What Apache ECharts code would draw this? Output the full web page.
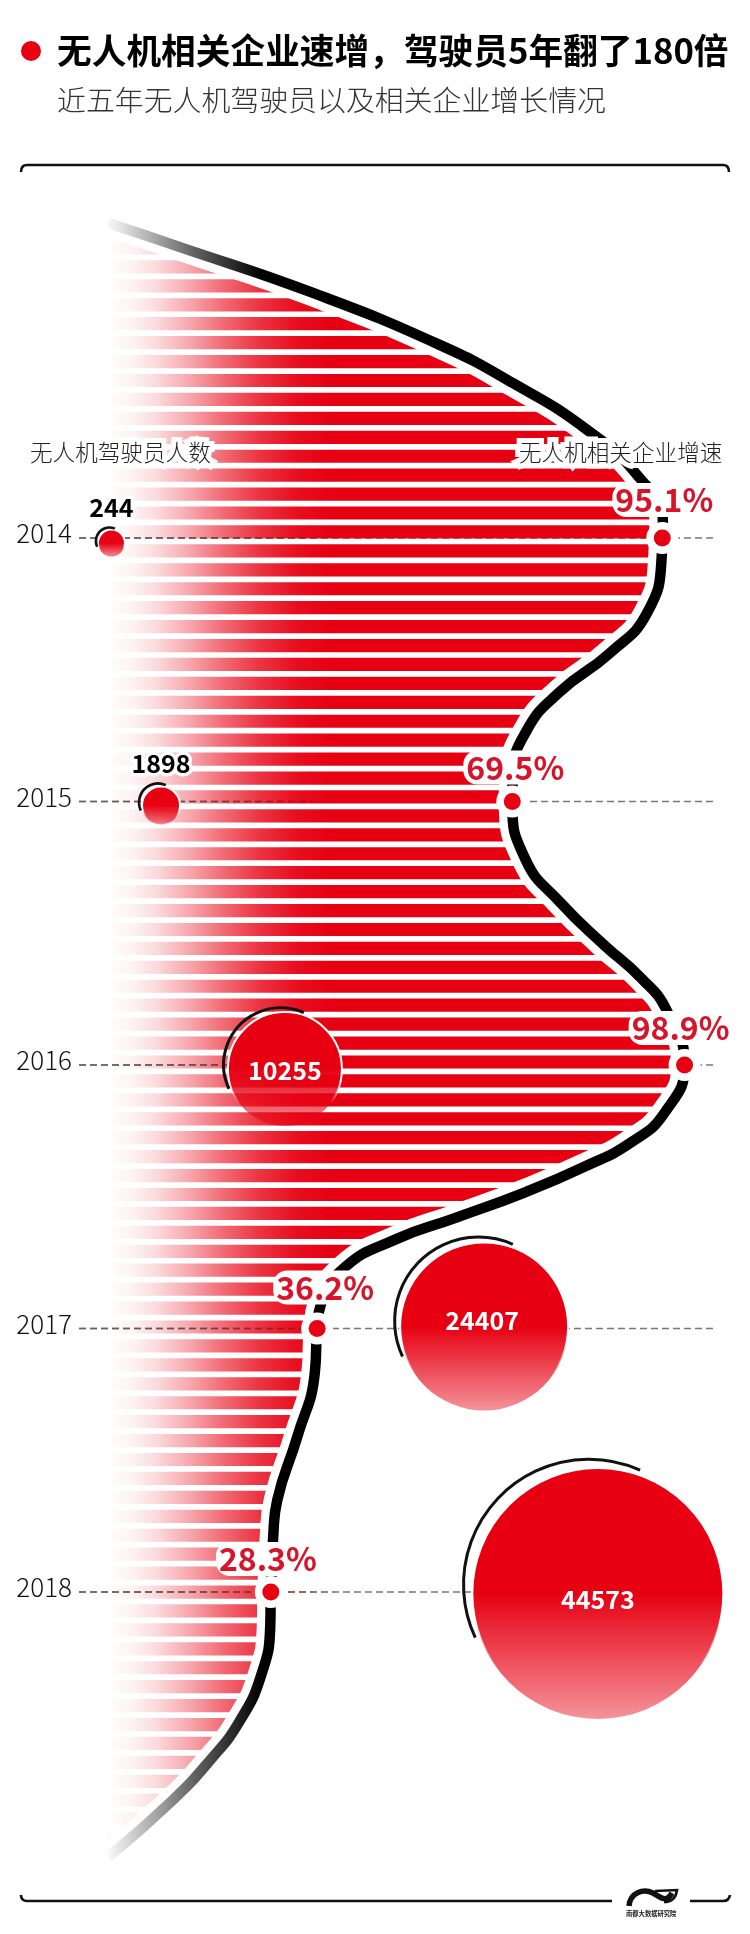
<!DOCTYPE html>
<html>
<head>
<meta charset="utf-8">
<title>无人机相关企业速增</title>
<script src="https://cdn.jsdelivr.net/npm/echarts@6/dist/echarts.min.js"></script>
<style>
  html, body { margin: 0; padding: 0; background: #fff; overflow: hidden; }
  #chart { width: 750px; height: 1934px; }
</style>
</head>
<body>
<div id="chart"></div>
<script>
// Chart data
const years = [2014, 2015, 2016, 2017, 2018];
const growthRates = [95.1, 69.5, 98.9, 36.2, 28.3];
const pilotCounts = [244, 1898, 10255, 24407, 44573];

// Curve through the growth rates, including the lead-in and lead-out
const curveYears = [
  2012.805, 2012.896, 2013.07, 2013.268, 2013.412, 2013.59, 2013.761, 2013.939, 2014,
  2014.072, 2014.285, 2014.436, 2014.584, 2014.729, 2014.899, 2015,
  2015.222, 2015.381, 2015.541, 2015.67, 2015.795, 2016,
  2016.178, 2016.292, 2016.387, 2016.482, 2016.581, 2016.66, 2016.77, 2016.911, 2017,
  2017.169, 2017.412, 2017.651, 2017.791, 2018,
  2018.129, 2018.319, 2018.493, 2018.634, 2018.793, 2019.006
];
const curveRates = [
  0.5, 12.8, 35.5, 57.2, 69.6, 82.3, 90.8, 95.2, 95.1,
  95.0, 92.5, 86.2, 77.6, 72.0, 69.6, 69.5,
  71.8, 77.6, 85.0, 91.5, 95.9, 98.9,
  95.6, 89.9, 81.7, 71.8, 59.7, 49.8, 40.8, 36.8, 36.2,
  35.8, 32.8, 29.4, 28.7, 28.3,
  28.2, 26.6, 22.9, 18.1, 11.4, 0.5
];

// Length of each stripe, top to bottom
const stripeRates = [
  14.2, 23.9, 33.1, 40.6, 48.1, 54.8, 61.6, 67.4, 72.5, 78.0,
  83.3, 87.7, 91.1, 92.8, 94.5, 95.2, 95.4, 95.2, 94.2, 93.0,
  90.9, 87.9, 84.5, 80.4, 76.5, 73.2, 71.5, 70.5, 70.0, 69.5,
  69.6, 70.3, 71.5, 73.5, 76.3, 79.0, 82.4, 85.7, 89.4, 92.5,
  95.1, 96.6, 97.8, 98.8, 98.3, 96.8, 94.2, 90.6, 85.0, 78.2,
  70.6, 62.1, 53.1, 46.1, 40.6, 38.2, 36.3, 35.7, 35.8, 35.8,
  35.3, 34.8, 34.0, 33.1, 31.9, 30.5, 29.7, 29.0, 28.8, 28.7,
  28.5, 28.3, 28.2, 28.2, 27.5, 26.8, 25.8, 24.2, 22.7, 20.1,
  17.6, 14.5, 11.6, 8.0, 4.3
];

// Layout of the plot: 2014 sits at y=538 and one year is 263.5px
const RED = '#e60012';
const FONT = '"Noto Sans CJK SC", "Noto Sans", sans-serif';
const YEAR_PX = 263.5;
const STRIPE_FIRST = 2014 + (248 - 538) / YEAR_PX;
const STRIPE_STEP = 18.93 / YEAR_PX;
const STRIPE_HEIGHT = 13.2;
const STRIPE_FADE_PX = 225;

// Bubbles are placed by hand in the original, not on a scale
const bubbleRates = [1.1, 9.56, 30.7, 64.7, 84.1];
const bubbleRadius = [13.5, 19, 57, 84, 125.5];
const bubbleShift = [5, 4, 4, -2, 1.5];
const arcShift = [2, 3, 4.3, 5.5, 8.8];
const pilotLabelPos = [[0, -36], [0, -42], [0, 1], [-2, -6.5], [0, 6]];
const rateLabelPos = [[2, -38], [3, -34], [-4, -37], [8, -41], [-3, -33]];

// Frame lines and logo, svg paths in page pixels
const framePaths = [
  { d: 'M21,172 Q21,165 27,165 L723,165 Q729,165 729,172', width: 2.6 },
  { d: 'M21,1895 Q21,1901 27,1901 L612,1901', width: 2.6 },
  { d: 'M690,1901 L723,1901 Q729,1901 730,1895', width: 2.6 },
  { d: 'M629,1906 C630,1893 643,1888 653,1893 C662,1898 666,1903 672,1893', width: 5.5 },
  { d: 'M655,1891 L677,1890 C676,1898 671,1902 664,1902', width: 2.6 }
];

const chart = echarts.init(document.getElementById('chart'), null, { renderer: 'canvas' });

const curveFade = new echarts.graphic.LinearGradient(105, 0, 262, 0, [
  { offset: 0, color: 'rgba(0,0,0,0)' },
  { offset: 0.55, color: 'rgba(0,0,0,0.6)' },
  { offset: 1, color: '#000' }
], true);

// the dashes stay readable over the pale part of the stripes, then sink into the red
const guideFade = new echarts.graphic.LinearGradient(79, 0, 340, 0, [
  { offset: 0, color: '#666' },
  { offset: 0.5, color: 'rgba(90,70,70,0.85)' },
  { offset: 0.85, color: 'rgba(120,20,30,0.5)' },
  { offset: 1, color: 'rgba(120,20,30,0)' }
], true);

const curveData = curveYears.map((y, i) => [curveRates[i], y]);
const rateData = years.map((y, i) => [growthRates[i], y]);

function textEl(x, y, text, font, fill, extra) {
  return {
    type: 'text',
    z: 100,
    style: Object.assign({ x, y, text, font, fill, align: 'left', verticalAlign: 'middle' }, extra)
  };
}

function guideItem(xEnd, stroke) {
  return (params, api) => {
    const p = api.coord([0, api.value(0)]);
    return {
      type: 'line',
      shape: { x1: 79, y1: p[1], x2: xEnd, y2: p[1] },
      style: { stroke, lineWidth: 1.6, lineDash: [7, 4] }
    };
  };
}

const halo = { stroke: '#fff', lineWidth: 10, lineJoin: 'round' };

const option = {
  animation: false,
  backgroundColor: '#fff',
  grid: { left: 105, top: 11, width: 644.6, height: 2108, containLabel: false, outerBoundsMode: 'none' },
  xAxis: { type: 'value', min: 0, max: 110, show: false },
  yAxis: {
    type: 'value',
    inverse: true,
    min: 2012,
    max: 2020,
    interval: 1,
    axisLine: { show: false },
    axisTick: { show: false },
    splitLine: { show: false },
    axisLabel: {
      margin: 33,
      verticalAlign: 'bottom',
      lineHeight: 9,
      fontSize: 26,
      fontWeight: 300,
      fontFamily: FONT,
      color: '#111',
      formatter: v => (years.includes(v) ? String(v) : '')
    }
  },
  graphic: [
    { type: 'circle', z: 100, shape: { cx: 31, cy: 51, r: 10 }, style: { fill: RED } },
    textEl(57, 51, '无人机相关企业速增，驾驶员5年翻了180倍', `bold 34.7px ${FONT}`, '#000'),
    textEl(57, 100, '近五年无人机驾驶员以及相关企业增长情况', `300 28.9px ${FONT}`, '#333'),
    textEl(30, 452, '无人机驾驶员人数', `300 22.6px ${FONT}`, '#222', halo),
    textEl(519, 452, '无人机相关企业增速', `300 22.6px ${FONT}`, '#222', halo),
    textEl(626, 1914, '南都大数据研究院', `bold 6.3px ${FONT}`, '#222')
  ],
  series: [
    {
      name: 'frame',
      type: 'custom',
      z: 1,
      clip: false,
      silent: true,
      data: framePaths.map((p, i) => [i]),
      renderItem(params) {
        const p = framePaths[params.dataIndex];
        return {
          type: 'path',
          shape: { pathData: p.d },
          style: { fill: 'none', stroke: '#111', lineWidth: p.width }
        };
      }
    },
    {
      name: 'guides',
      type: 'custom',
      z: 1,
      clip: false,
      silent: true,
      data: years.map(y => [y]),
      renderItem: guideItem(715, '#777')
    },
    {
      name: 'stripes',
      type: 'custom',
      z: 2,
      clip: false,
      silent: true,
      data: stripeRates.map((v, i) => [v, STRIPE_FIRST + i * STRIPE_STEP]),
      renderItem(params, api) {
        const start = api.coord([0, api.value(1)]);
        const end = api.coord([api.value(0), api.value(1)]);
        const len = end[0] - start[0];
        return {
          type: 'rect',
          shape: { x: start[0], y: start[1] - STRIPE_HEIGHT / 2, width: len, height: STRIPE_HEIGHT },
          style: {
            // same fade for every stripe, measured from the left edge
            fill: new echarts.graphic.LinearGradient(0, 0, STRIPE_FADE_PX / len, 0, [
              { offset: 0, color: 'rgba(230,0,18,0)' },
              { offset: 0.124, color: 'rgba(230,0,18,0.05)' },
              { offset: 0.231, color: 'rgba(230,0,18,0.15)' },
              { offset: 0.378, color: 'rgba(230,0,18,0.35)' },
              { offset: 0.524, color: 'rgba(230,0,18,0.58)' },
              { offset: 0.689, color: 'rgba(230,0,18,0.8)' },
              { offset: 0.844, color: 'rgba(230,0,18,0.94)' },
              { offset: 1, color: 'rgba(230,0,18,1)' }
            ])
          }
        };
      }
    },
    {
      name: 'guidesOver',
      type: 'custom',
      z: 2.5,
      clip: false,
      silent: true,
      data: years.map(y => [y]),
      renderItem: guideItem(340, guideFade)
    },
    {
      // wide white stroke cuts the stripe ends along the curve
      name: 'curveGap',
      type: 'line',
      z: 3,
      clip: false,
      silent: true,
      smooth: 0.5,
      symbol: 'none',
      data: curveData,
      lineStyle: { color: '#fff', width: 27 }
    },
    {
      name: 'curve',
      type: 'line',
      z: 4,
      clip: false,
      silent: true,
      smooth: 0.5,
      symbol: 'none',
      data: curveData,
      lineStyle: { color: curveFade, width: 10.5 }
    },
    {
      name: 'pilots',
      type: 'custom',
      z: 5,
      clip: false,
      silent: true,
      data: years.map((y, i) => [bubbleRates[i], y, pilotCounts[i]]),
      renderItem(params, api) {
        const i = params.dataIndex;
        const p = api.coord([api.value(0), api.value(1)]);
        const r = bubbleRadius[i];
        const cx = p[0];
        const cy = p[1] + bubbleShift[i];
        const small = r < 30;
        const lp = pilotLabelPos[i];
        return {
          type: 'group',
          children: [
            {
              type: 'circle',
              shape: { cx, cy, r },
              style: {
                fill: new echarts.graphic.LinearGradient(0, 0, 0, 1, [
                  { offset: 0, color: 'rgba(230,0,18,1)' },
                  { offset: 0.5, color: 'rgba(230,0,18,1)' },
                  { offset: 1, color: 'rgba(230,0,18,0.42)' }
                ]),
                stroke: new echarts.graphic.LinearGradient(0, 0, 0, 1, [
                  { offset: 0, color: 'rgba(255,255,255,1)' },
                  { offset: 0.6, color: 'rgba(255,255,255,1)' },
                  { offset: 0.8, color: 'rgba(255,255,255,0)' }
                ]),
                lineWidth: 2
              }
            },
            {
              type: 'arc',
              shape: {
                cx: cx - arcShift[i],
                cy: cy - arcShift[i],
                r,
                startAngle: (155 * Math.PI) / 180,
                endAngle: (294 * Math.PI) / 180,
                clockwise: true
              },
              style: { fill: 'none', stroke: '#111', lineWidth: small ? 2.6 : 3 }
            },
            {
              type: 'text',
              style: {
                x: cx + lp[0],
                y: cy + lp[1],
                text: String(api.value(2)),
                font: `bold 25px ${FONT}`,
                fill: small ? '#000' : '#fff',
                align: 'center',
                verticalAlign: 'middle',
                stroke: small ? '#fff' : null,
                lineWidth: small ? 7 : 0
              }
            }
          ]
        };
      }
    },
    {
      name: 'rateRing',
      type: 'scatter',
      z: 6,
      clip: false,
      silent: true,
      symbolSize: 32,
      data: rateData,
      itemStyle: { color: '#fff', opacity: 1 }
    },
    {
      name: 'rate',
      type: 'scatter',
      z: 7,
      clip: false,
      silent: true,
      symbolSize: 17,
      data: rateData.map((d, i) => ({
        value: d,
        label: {
          show: true,
          position: 'inside',
          offset: rateLabelPos[i],
          formatter: growthRates[i].toFixed(1) + '%'
        }
      })),
      itemStyle: { color: RED, opacity: 1 },
      label: {
        fontSize: 32,
        fontWeight: 'bold',
        fontFamily: FONT,
        color: '#d6152b',
        backgroundColor: '#fff',
        borderRadius: 14,
        padding: [0, 3],
        lineHeight: 34
      }
    }
  ]
};

chart.setOption(option);
</script>
</body>
</html>
